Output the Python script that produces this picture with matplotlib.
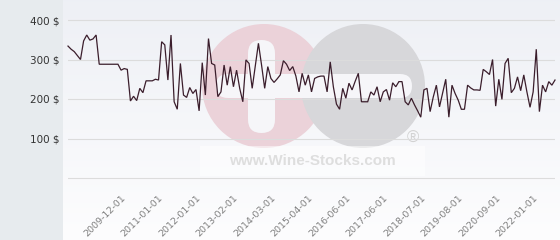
import matplotlib
matplotlib.use('Agg')
import matplotlib.pyplot as plt
import matplotlib.patches as patches
import numpy as np

# Price history, one value per listing
prices = [
    334, 326, 320, 310, 300, 347, 362, 349, 352, 362,
    288, 288, 288, 288, 288, 288, 288, 273, 277, 275,
    195, 207, 196, 227, 216, 246, 246, 246, 250, 248,
    345, 337, 248, 362, 193, 174, 290, 210, 204, 229,
    214, 224, 170, 292, 210, 353, 290, 286, 206, 218,
    286, 235, 282, 231, 273, 227, 193, 299, 290, 227,
    284, 341, 286, 227, 282, 252, 242, 251, 261, 297,
    288, 272, 282, 258, 218, 265, 235, 261, 218, 252,
    256, 258, 258, 218, 294, 231, 187, 174, 227, 202,
    240, 223, 245, 265, 193, 193, 193, 218, 210, 231,
    193, 218, 224, 197, 241, 231, 244, 244, 193, 185,
    202, 185, 170, 154, 223, 227, 168, 205, 235, 180,
    215, 250, 154, 235, 214, 197, 174, 174, 235, 228,
    223, 223, 222, 275, 269, 262, 300, 182, 250, 199,
    290, 303, 216, 227, 256, 221, 261, 218, 179, 218,
    326, 168, 235, 218, 244, 235, 248,
]

date_labels = ['2009-12-01', '2011-01-01', '2012-01-01', '2013-02-01',
               '2014-03-01', '2015-04-01', '2016-06-01', '2017-06-01',
               '2018-07-01', '2019-08-01', '2020-09-01', '2022-01-01']

y_ticks = [0, 100, 200, 300, 400]
y_labels = ['', '100 $', '200 $', '300 $', '400 $']

W, H = 560, 240


def main():
    fig = plt.figure(figsize=(W / 100, H / 100), dpi=100)
    fig.patch.set_facecolor('#e7ebee')

    # Background of the plot area (gradient + watermark), in pixel coords
    bg = fig.add_axes([63 / W, 0, (W - 63) / W, 1])
    bg.set_xlim(63, W)
    bg.set_ylim(H, 0)
    bg.axis('off')
    grad = np.linspace(0, 1, 256).reshape(-1, 1)
    top = np.array([0.933, 0.941, 0.961])
    bottom = np.array([0.992, 0.992, 0.996])
    img = top + grad[..., None] * (bottom - top)
    img = img.reshape(256, 1, 3)
    bg.imshow(img, extent=(63, W, H, 0), aspect='auto', zorder=0)

    bg.add_patch(patches.Circle((264, 86), 62, color='#ebd2d9', zorder=1, lw=0))
    bg.add_patch(patches.Circle((363, 86), 62, color='#d7d7da', zorder=2, lw=0))
    bg.add_patch(patches.FancyBboxPatch((248, 40), 27, 93,
                                        boxstyle='round,pad=0,rounding_size=13.5',
                                        color='#f6f6f9', zorder=3, lw=0))
    bg.add_patch(patches.FancyBboxPatch((216, 74), 196, 24,
                                        boxstyle='round,pad=0,rounding_size=12',
                                        color='#f6f6f9', zorder=3, lw=0))
    bg.add_patch(patches.Rectangle((200, 146), 225, 30, color='white',
                                   alpha=0.5, zorder=3, lw=0))
    bg.text(312, 161, 'www.Wine-Stocks.com', ha='center', va='center',
            fontsize=11, fontweight='bold', family='Liberation Sans',
            color='#dedede', zorder=4)
    bg.text(413, 138, '\u00ae', ha='center', va='center', fontsize=12,
            family='Liberation Sans', color='#d2d2d2', zorder=4)

    # Main chart
    px = 0.395  # pixels per dollar
    ax = fig.add_axes([68 / W, (H - 182) / H, 487 / W, 168 / H])
    ax.set_facecolor('none')
    ax.set_xlim(0, len(prices) - 1)
    ax.set_ylim(-4 / px, (178 - 14) / px)

    ax.plot(range(len(prices)), prices, color='#3b1e2c', lw=0.9,
            solid_joinstyle='miter', clip_on=False, zorder=3)

    ax.set_yticks(y_ticks)
    ax.set_yticklabels(y_labels)
    ax.tick_params(axis='y', length=0, pad=5.8, labelsize=7.5, labelcolor='#333333')
    ax.grid(axis='y', color='#dcdcdc', lw=0.8)
    ax.set_axisbelow(True)

    # a date label on every 12th listing
    tick_idx = list(range(17, len(prices), 12))
    ax.set_xticks(tick_idx)
    ax.set_xticklabels(date_labels, rotation=45, ha='right', va='top',
                       rotation_mode='anchor')
    ax.tick_params(axis='x', length=0, pad=7.9, labelsize=6.8, labelcolor='#808080')

    for s in ax.spines.values():
        s.set_visible(False)

    fig.savefig('out.png', dpi=100)


if __name__ == '__main__':
    main()
